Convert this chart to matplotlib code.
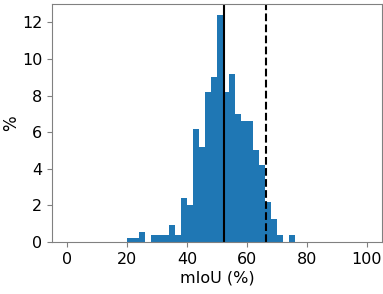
import numpy as np
import matplotlib
matplotlib.use("Agg")
import matplotlib.pyplot as plt

# histogram of mIoU, 2-point bins from 0 to 100, value = % of samples per bin
bin_edges = np.arange(0, 102, 2)
pct = [0, 0, 0, 0, 0, 0, 0, 0, 0, 0,
       0.19, 0.19, 0.57, 0, 0.38, 0.38, 0.38, 0.95, 0.38, 2.4,
       2.0, 6.2, 5.2, 8.2, 9.0, 12.4, 8.2, 9.2, 7.0, 6.6,
       6.6, 5.0, 4.2, 2.2, 1.24, 0.38, 0, 0.38, 0, 0,
       0, 0, 0, 0, 0, 0, 0, 0, 0, 0]
mean_miou = 52.4
ref_miou = 66.2

fig = plt.figure(figsize=(3.83, 2.94), dpi=100)
ax = fig.add_axes([0.136, 0.177, 0.861, 0.809])

ax.bar(bin_edges[:-1], pct, width=2, align='edge', color='#1f77b4', linewidth=0)
ax.axvline(mean_miou, color='k', linestyle='-', linewidth=1.5)
ax.axvline(ref_miou, color='k', linestyle='--', linewidth=1.5)

ax.set_xlim(-5, 105)
ax.set_ylim(0, 13.0)
ax.set_xticks([0, 20, 40, 60, 80, 100])
ax.set_yticks([0, 2, 4, 6, 8, 10, 12])
ax.tick_params(labelsize=11.5)
ax.set_xlabel('mIoU (%)', fontsize=11.5, labelpad=3)
ax.set_ylabel('%', fontsize=12, labelpad=1)
for s in ax.spines.values():
    s.set_color('#808080')
ax.tick_params(color='#808080')

fig.savefig('out.png', dpi=100)
